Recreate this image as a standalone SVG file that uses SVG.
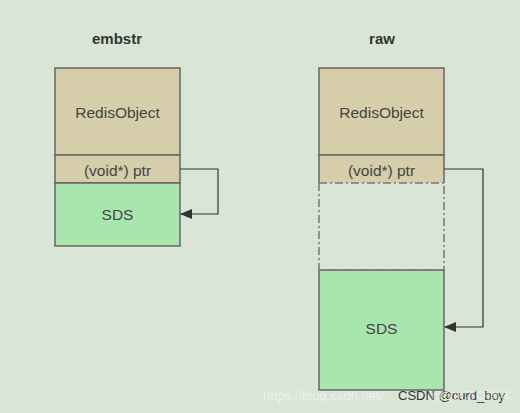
<svg xmlns="http://www.w3.org/2000/svg" width="520" height="413" viewBox="0 0 520 413">
<style>
.t{font-family:"Liberation Sans",Arial,sans-serif;font-size:15.5px;fill:#444;text-anchor:middle}
.h{font-family:"Liberation Sans",Arial,sans-serif;font-size:15px;font-weight:bold;fill:#333;text-anchor:middle}
.tan{fill:#d6ceab;stroke:#666;stroke-width:1.5}
.grn{fill:#a8e6ad;stroke:#666;stroke-width:1.5}
.dd{fill:none;stroke:#777;stroke-width:1.5;stroke-dasharray:8,3,2,3}
.conn{fill:none;stroke:#333;stroke-width:1.2}
.wm{font-family:"Liberation Sans",Arial,sans-serif;font-size:13px}
</style>
<defs>
<marker id="ah" markerWidth="12" markerHeight="10" refX="11" refY="5" orient="auto" markerUnits="userSpaceOnUse">
<path d="M0,0 L12,5 L0,10 z" fill="#333"/>
</marker>
</defs>
<rect width="520" height="413" fill="#d9e6d6"/>
<g id="embstr">
<text class="h" x="117" y="44">embstr</text>
<rect class="tan" x="55" y="68" width="125" height="87"/>
<text class="t" x="117.5" y="118">RedisObject</text>
<rect class="tan" x="55" y="155" width="125" height="28"/>
<text class="t" x="117.5" y="175.5">(void*) ptr</text>
<rect class="grn" x="55" y="183" width="125" height="63"/>
<text class="t" x="117.5" y="220">SDS</text>
</g>
<g id="raw">
<text class="h" x="382" y="44">raw</text>
<rect class="tan" x="319" y="68" width="125" height="87"/>
<text class="t" x="381.5" y="118">RedisObject</text>
<rect x="319" y="155" width="125" height="28" fill="#d6ceab"/>
<path d="M319,183 V155 H444 V183" fill="none" stroke="#666" stroke-width="1.5"/>
<text class="t" x="381.5" y="175.5">(void*) ptr</text>
<rect class="grn" x="319" y="270" width="125" height="120"/>
<rect class="dd" x="319" y="183" width="125" height="87"/>
<text class="t" x="381.5" y="333.5">SDS</text>
</g>
<g id="connectors">
<path class="conn" d="M180,169 H218 V214 H181" marker-end="url(#ah)"/>
<path class="conn" d="M444,169 H483 V327 H445" marker-end="url(#ah)"/>
</g>
<g id="watermark">
<text class="wm" x="263" y="400" fill="#f2f4f0" opacity="0.8">https://blog.csdn.net/</text>
<text class="wm" x="398" y="400" fill="#333" font-size="12.5px">CSDN @curd_boy</text>
<text class="wm" x="512" y="400" fill="#f2f4f0" opacity="0.6" text-anchor="end">@51CTO博客</text>
</g>
</svg>
